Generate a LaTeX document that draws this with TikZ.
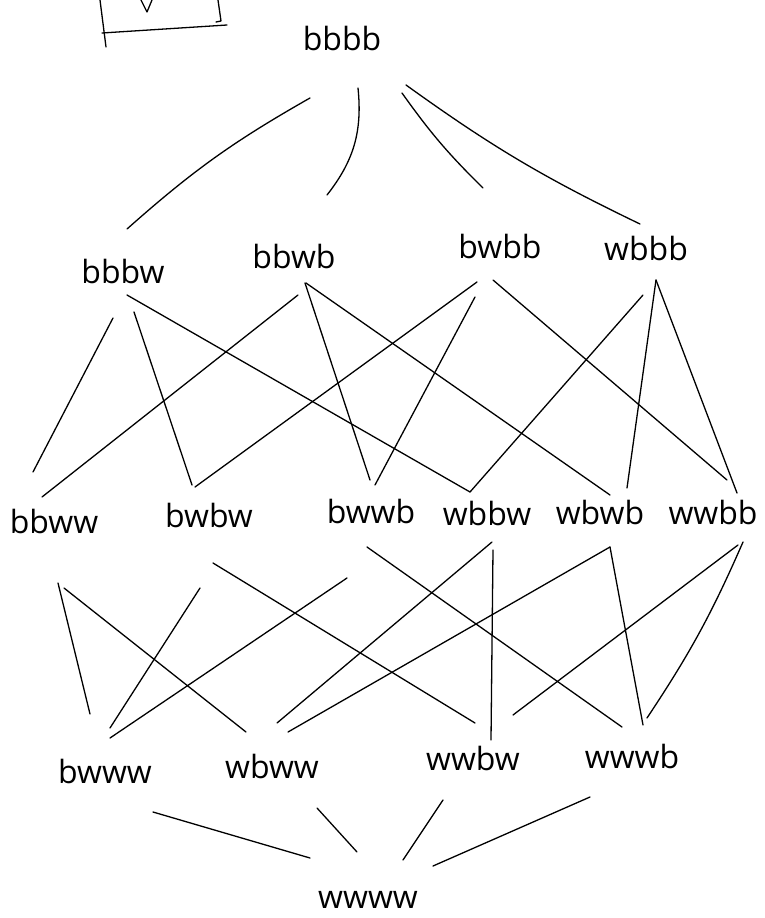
\documentclass[tikz,border=0pt]{standalone}
\usepackage{fontspec}
\setmainfont{Open Sans}
\begin{document}
\begin{tikzpicture}[x=1pt,y=-1pt,
  lab/.style={font=\fontsize{32}{32}\selectfont, anchor=base, inner sep=0pt},
  edge/.style={line width=1.3pt, line cap=round, line join=round}]
\useasboundingbox (0,0) rectangle (764,918);
% partial box at top left
\draw[edge] (100,0) -- (106,47);
\draw[edge] (102,33) -- (227,25);
\draw[edge] (218,0) -- (221,21) -- (216,22);
\draw[edge] (141,0) -- (147,12) -- (152,0);
% labels
\node[lab] (bbbb) at (342,50) {bbbb};
\node[lab] (bbbw) at (123,283) {bbbw};
\node[lab] (bbwb) at (294,268) {bbwb};
\node[lab] (bwbb) at (500,258) {bwbb};
\node[lab] (wbbb) at (646,260) {wbbb};
\node[lab] (bbww) at (54,533) {bbww};
\node[lab] (bwbw) at (209,527) {bwbw};
\node[lab] (bwwb) at (371,523) {bwwb};
\node[lab] (wbbw) at (487,525) {wbbw};
\node[lab] (wbwb) at (600,524) {wbwb};
\node[lab] (wwbb) at (713,524) {wwbb};
\node[lab] (bwww) at (105,783) {bwww};
\node[lab] (wbww) at (272,778) {wbww};
\node[lab] (wwbw) at (473,770) {wwbw};
\node[lab] (wwwb) at (632,768) {wwwb};
\node[lab] (wwww) at (368,908) {wwww};
% top
\draw[edge] ([shift={(-32,48)}]bbbb.base) to[bend right=6] ([shift={(4,-54)}]bbbw.base);
\draw[edge] ([shift={(16,38)}]bbbb.base) to[bend left=22] ([shift={(33,-73)}]bbwb.base);
\draw[edge] ([shift={(60,43)}]bbbb.base) to[bend right=5] ([shift={(-17,-70)}]bwbb.base);
\draw[edge] ([shift={(64,35)}]bbbb.base) to[bend right=5] ([shift={(-6,-36)}]wbbb.base);
% level 1 to level 2
\draw[edge] ([shift={(-10,35)}]bbbw.base) -- ([shift={(-21,-61)}]bbww.base);
\draw[edge] ([shift={(11,29)}]bbbw.base) -- ([shift={(-17,-42)}]bwbw.base);
\draw[edge] ([shift={(4,12)}]bbbw.base) -- ([shift={(-17,-33)}]wbbw.base);
\draw[edge] ([shift={(4,27)}]bbwb.base) -- ([shift={(-12,-36)}]bbww.base);
\draw[edge] ([shift={(11,15)}]bbwb.base) -- ([shift={(-1,-43)}]bwwb.base);
\draw[edge] ([shift={(12,15)}]bbwb.base) -- ([shift={(10,-29)}]wbwb.base);
\draw[edge] ([shift={(-23,24)}]bwbb.base) -- ([shift={(-14,-40)}]bwbw.base);
\draw[edge] ([shift={(-25,39)}]bwbb.base) -- ([shift={(4,-38)}]bwwb.base);
\draw[edge] ([shift={(-7,22)}]bwbb.base) -- ([shift={(14,-44)}]wwbb.base);
\draw[edge] ([shift={(-3,35)}]wbbb.base) -- ([shift={(-17,-33)}]wbbw.base);
\draw[edge] ([shift={(10,20)}]wbbb.base) -- ([shift={(27,-36)}]wbwb.base);
\draw[edge] ([shift={(10,20)}]wbbb.base) -- ([shift={(24,-31)}]wwbb.base);
% level 2 to level 3
\draw[edge] ([shift={(4,50)}]bbww.base) -- ([shift={(-15,-69)}]bwww.base);
\draw[edge] ([shift={(10,55)}]bbww.base) -- ([shift={(-26,-46)}]wbww.base);
\draw[edge] ([shift={(-9,61)}]bwbw.base) -- ([shift={(5,-55)}]bwww.base);
\draw[edge] ([shift={(4,36)}]bwbw.base) -- ([shift={(2,-47)}]wwbw.base);
\draw[edge] ([shift={(-24,55)}]bwwb.base) -- ([shift={(5,-45)}]bwww.base);
\draw[edge] ([shift={(-4,24)}]bwwb.base) -- ([shift={(-10,-41)}]wwwb.base);
\draw[edge] ([shift={(5,17)}]wbbw.base) -- ([shift={(5,-55)}]wbww.base);
\draw[edge] ([shift={(6,25)}]wbbw.base) -- ([shift={(18,-30)}]wwbw.base);
\draw[edge] ([shift={(10,23)}]wbwb.base) -- ([shift={(16,-46)}]wbww.base);
\draw[edge] ([shift={(10,23)}]wbwb.base) -- ([shift={(11,-43)}]wwwb.base);
\draw[edge] ([shift={(25,21)}]wwbb.base) -- ([shift={(40,-55)}]wwbw.base);
\draw[edge] ([shift={(30,18)}]wwbb.base) to[bend left=5] ([shift={(15,-50)}]wwwb.base);
% bottom
\draw[edge] ([shift={(48,29)}]bwww.base) -- ([shift={(-58,-50)}]wwww.base);
\draw[edge] ([shift={(45,30)}]wbww.base) -- ([shift={(-11,-56)}]wwww.base);
\draw[edge] ([shift={(-30,30)}]wwbw.base) -- ([shift={(35,-48)}]wwww.base);
\draw[edge] ([shift={(-42,29)}]wwwb.base) -- ([shift={(65,-42)}]wwww.base);
\end{tikzpicture}
\end{document}
